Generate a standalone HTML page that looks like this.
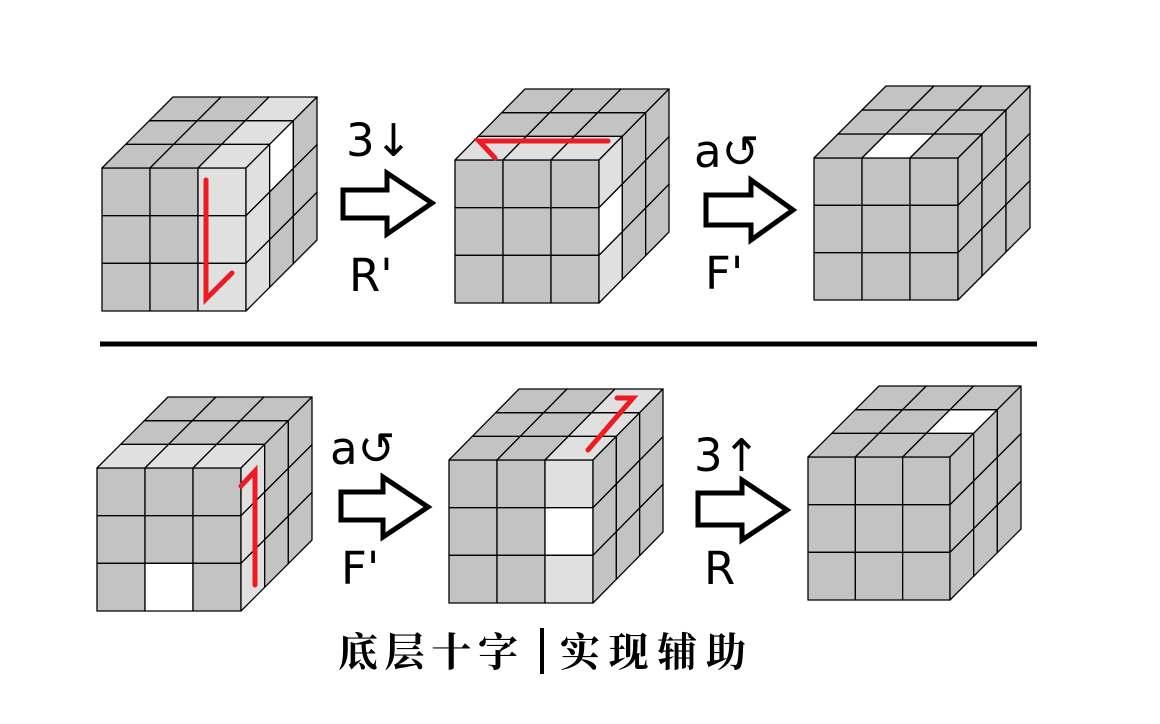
<!DOCTYPE html>
<html><head><meta charset="utf-8">
<style>
html,body{margin:0;padding:0;background:#fff;}
#c{position:absolute;left:0;top:0;}
.lbl{font-family:"DejaVu Sans","Liberation Sans",sans-serif;font-size:45px;fill:#000;}
.title{font-family:"Liberation Serif","Noto Serif CJK SC",serif;font-weight:bold;font-size:40px;fill:#000;}
</style></head>
<body>
<svg id="c" width="1160" height="724" xmlns="http://www.w3.org/2000/svg">
<g id="g"></g>
<line x1="100" y1="344" x2="1037" y2="344" stroke="#000" stroke-width="5"/>
<text class="lbl" x="346" y="156">3↓</text>
<text class="lbl" x="349" y="291">R'</text>
<text class="lbl" x="694" y="167">a↺</text>
<text class="lbl" x="705" y="289">F'</text>
<text class="lbl" x="330" y="464">a↺</text>
<text class="lbl" x="341" y="584">F'</text>
<text class="lbl" x="694" y="471">3↑</text>
<text class="lbl" x="704" y="584">R</text>
<text class="title" x="338" y="666" textLength="180" lengthAdjust="spacing">底层十字</text>
<rect x="540" y="628" width="4" height="46" fill="#000"/>
<text class="title" x="560" y="666" textLength="186" lengthAdjust="spacing">实现辅助</text>
</svg>
<script>
var NS="http://www.w3.org/2000/svg",G=document.getElementById('g');
var GR="#c3c3c3",LT="#e0e0e0",WH="#ffffff";
function poly(pts,fill){var p=document.createElementNS(NS,'polygon');p.setAttribute('points',pts.map(function(a){return a[0]+','+a[1]}).join(' '));p.setAttribute('fill',fill);p.setAttribute('stroke','#000');p.setAttribute('stroke-width','1.3');p.setAttribute('stroke-linejoin','round');G.appendChild(p);}
function line(pts,col,w){var p=document.createElementNS(NS,'polyline');p.setAttribute('points',pts.map(function(a){return a[0]+','+a[1]}).join(' '));p.setAttribute('fill','none');p.setAttribute('stroke',col);p.setAttribute('stroke-width',w);p.setAttribute('stroke-linecap','round');p.setAttribute('stroke-linejoin','miter');G.appendChild(p);}
function cube(x,y,x2,y2,bx,by,F,T,R){
 var s=(x2-x)/3, sv=(y2-y)/3, dx=(bx-x2)/3, dy=(y-by)/3;
 for(var r=0;r<3;r++)for(var c=0;c<3;c++){
   var f=(F&&F[r]&&F[r][c])||GR;
   poly([[x+c*s,y+r*sv],[x+(c+1)*s,y+r*sv],[x+(c+1)*s,y+(r+1)*sv],[x+c*s,y+(r+1)*sv]],f);}
 for(var k=0;k<3;k++)for(var c=0;c<3;c++){
   var f=(T&&T[k]&&T[k][c])||GR;
   poly([[x+c*s+k*dx,y-k*dy],[x+(c+1)*s+k*dx,y-k*dy],[x+(c+1)*s+(k+1)*dx,y-(k+1)*dy],[x+c*s+(k+1)*dx,y-(k+1)*dy]],f);}
 for(var k=0;k<3;k++)for(var r=0;r<3;r++){
   var f=(R&&R[k]&&R[k][r])||GR;
   poly([[x2+k*dx,y+r*sv-k*dy],[x2+(k+1)*dx,y+r*sv-(k+1)*dy],[x2+(k+1)*dx,y+(r+1)*sv-(k+1)*dy],[x2+k*dx,y+(r+1)*sv-k*dy]],f);}
}
function arrow(bl,bt,bb,hx,ht,hb,tx,ty){
 var p=document.createElementNS(NS,'polygon');
 p.setAttribute('points',[[bl,bt],[hx,bt],[hx,ht],[tx,ty],[hx,hb],[hx,bb],[bl,bb]].map(function(a){return a[0]+','+a[1]}).join(' '));
 p.setAttribute('fill','#fff');p.setAttribute('stroke','#000');p.setAttribute('stroke-width','5');p.setAttribute('stroke-linejoin','miter');G.appendChild(p);}
cube(102,168,246,311,317,97,
 [[0,0,LT],[0,0,LT],[0,0,LT]],
 [[0,0,LT],[0,0,LT],[0,0,LT]],
 [[LT,LT,LT],[WH,0,0],[0,0,0]]);
line([[206,180],[206,299],[232,273]],'#ed1c24',5);
cube(455,160,599,303,669,89,[],[[LT,LT,LT]],[[LT,WH,LT]]);
line([[608,141],[479,141],[495,158]],'#ed1c24',5);
cube(814,158,958,300,1030,86,[],[[0,WH,0]],[]);
cube(97,468,241,611,312,397,
 [[0,0,0],[0,0,0],[0,WH,0]],
 [[LT,LT,LT]],
 [[LT,LT,LT]]);
line([[241,486],[255,471],[255,585]],'#ed1c24',5);
cube(449,460,593,603,663,389,
 [[0,0,LT],[0,0,WH],[0,0,LT]],
 [[0,0,LT],[0,0,LT],[0,0,LT]],
 []);
line([[588,450],[633,398],[617,398]],'#ed1c24',5);
cube(808,457,950,600,1021,386,[],[[0,0,0],[0,0,WH]],[]);
arrow(343,190,218,387,173,234,432,203);
arrow(706,195,225,751,180,240,793,210);
arrow(341,492,520,383,477,537,428,507);
arrow(698,493,525,742,480,540,787,510);
</script>
</body></html>
